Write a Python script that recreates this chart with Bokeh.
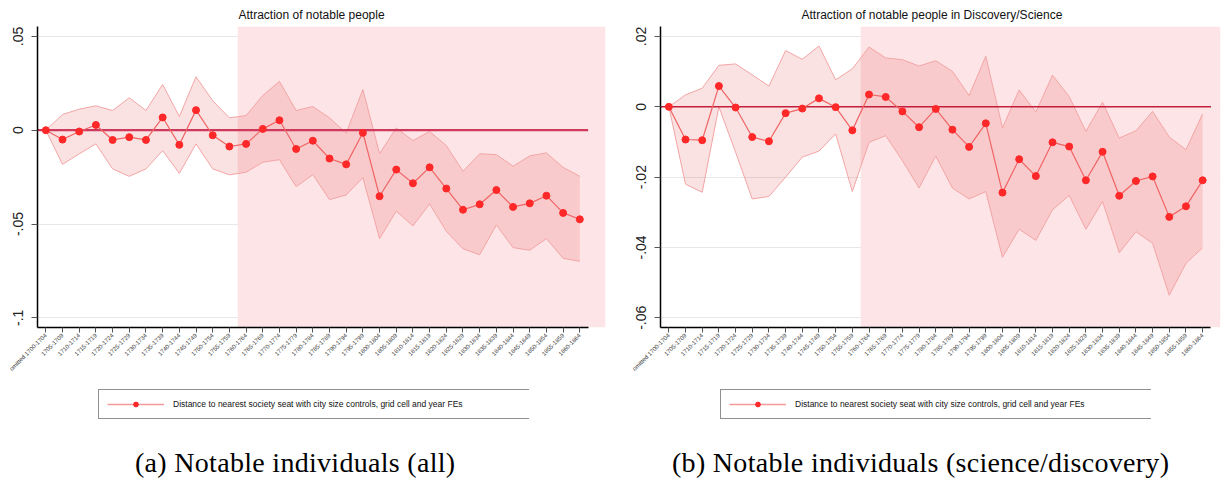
import math
from bokeh.plotting import figure
from bokeh.models import FixedTicker, BoxAnnotation, Legend, LegendItem, Div, Spacer
from bokeh.layouts import row, column
from bokeh.embed import file_html
from bokeh.resources import INLINE

periods = ["omitted 1700-1704", "1705-1709", "1710-1714", "1715-1719", "1720-1724",
           "1725-1729", "1730-1734", "1735-1739", "1740-1744", "1745-1749",
           "1750-1754", "1755-1759", "1760-1764", "1765-1769", "1770-1774",
           "1775-1779", "1780-1784", "1785-1789", "1790-1794", "1795-1799",
           "1800-1804", "1805-1809", "1810-1814", "1815-1819", "1820-1824",
           "1825-1829", "1830-1834", "1835-1839", "1840-1844", "1845-1849",
           "1850-1854", "1855-1859", "1860-1864"]
treatment_first = "1760-1764"

# Panel (a): all notable people
coef_all = [0.0, -0.0050, -0.0007, 0.0028, -0.0052, -0.0037, -0.0052, 0.0068, -0.0078, 0.0107,
            -0.0027, -0.0087, -0.0073, 0.0007, 0.0053, -0.0100, -0.0056, -0.0151, -0.0182, -0.0014,
            -0.0352, -0.0210, -0.0283, -0.0198, -0.0311, -0.0424, -0.0395, -0.0319, -0.0409, -0.0390,
            -0.0349, -0.0441, -0.0475]
upper_all = [0.0, 0.0084, 0.0112, 0.0130, 0.0105, 0.0173, 0.0105, 0.0244, 0.0073, 0.0285,
             0.0157, 0.0066, 0.0078, 0.0185, 0.0260, 0.0105, 0.0126, 0.0066, -0.0016, 0.0217,
             -0.0125, 0.0012, -0.0055, -0.0007, -0.0082, -0.0219, -0.0126, -0.0130, -0.0192, -0.0137,
             -0.0121, -0.0198, -0.0246]
lower_all = [0.0, -0.0182, -0.0126, -0.0073, -0.0206, -0.0246, -0.0206, -0.0109, -0.0230, -0.0073,
             -0.0206, -0.0238, -0.0224, -0.0171, -0.0157, -0.0301, -0.0237, -0.0370, -0.0345, -0.0253,
             -0.0578, -0.0432, -0.0510, -0.0393, -0.0539, -0.0632, -0.0664, -0.0505, -0.0626, -0.0640,
             -0.0578, -0.0683, -0.0699]

# Panel (b): science / discovery
coef_sci = [0.0, -0.0093, -0.0095, 0.0059, -0.0002, -0.0086, -0.0098, -0.0018, -0.0005, 0.0024,
            -0.0001, -0.0067, 0.0035, 0.0028, -0.0013, -0.0058, -0.0006, -0.0065, -0.0114, -0.0047,
            -0.0244, -0.0149, -0.0197, -0.0101, -0.0113, -0.0209, -0.0128, -0.0253, -0.0211, -0.0198,
            -0.0313, -0.0283, -0.0209]
upper_sci = [0.0, 0.0034, 0.0053, 0.0118, 0.0122, 0.0091, 0.0059, 0.0160, 0.0135, 0.0173,
             0.0077, 0.0108, 0.0170, 0.0139, 0.0134, 0.0116, 0.0131, 0.0101, 0.0032, 0.0144,
             -0.0060, 0.0048, -0.0015, 0.0090, 0.0029, -0.0070, 0.0013, -0.0089, -0.0068, -0.0013,
             -0.0086, -0.0122, -0.0020]
lower_sci = [0.0, -0.0220, -0.0243, 0.0000, -0.0129, -0.0262, -0.0255, -0.0200, -0.0143, -0.0126,
             -0.0077, -0.0241, -0.0101, -0.0082, -0.0153, -0.0231, -0.0140, -0.0231, -0.0262, -0.0241,
             -0.0428, -0.0348, -0.0380, -0.0293, -0.0252, -0.0348, -0.0269, -0.0415, -0.0355, -0.0388,
             -0.0536, -0.0445, -0.0401]

yticks_all = [0.05, 0.0, -0.05, -0.1]
ylabels_all = [".05", "0", "-.05", "-.1"]
yticks_sci = [0.02, 0.0, -0.02, -0.04, -0.06]
ylabels_sci = [".02", "0", "-.02", "-.04", "-.06"]

legend_text = "Distance to nearest society seat with city size controls, grid cell and year FEs"

LINE_COLOR = "#f06464"
LEGEND_LINE_COLOR = "#f59a9a"
DOT_COLOR = "#ff2828"


def panel(title, coef, lower, upper, yticks, ylabels, x_end, y_range, b_left, b_right,
          title_offset, zero_color, zero_width):
    n = len(periods)
    x = list(range(n))
    p = figure(width=611, height=388, x_range=(-0.5, x_end), y_range=y_range,
               output_backend="svg", toolbar_location=None,
               min_border_left=b_left, min_border_right=b_right,
               min_border_top=26, min_border_bottom=61,
               background_fill_color="white", border_fill_color="white",
               outline_line_color=None)
    p.title.text = title
    p.title.align = "left"
    p.title.offset = title_offset
    p.title.text_font = "Liberation Sans"
    p.title.text_font_size = "12px"
    p.title.text_font_style = "normal"
    p.title.text_color = "#111111"

    shade = BoxAnnotation(left=periods.index(treatment_first) - 0.5,
                          fill_color="#fde4e6", fill_alpha=1.0, line_color=None,
                          level="underlay")
    p.add_layout(shade)

    p.varea(x=x, y1=lower, y2=upper, fill_color="#e0383e", fill_alpha=0.15)
    p.line(x, upper, line_color="#f3a5a5", line_width=1)
    p.line(x, lower, line_color="#f3a5a5", line_width=1)
    p.segment(x0=[-0.5], x1=[n - 0.5], y0=[0], y1=[0], line_color=zero_color,
              line_width=zero_width)
    p.line(x, coef, line_color=LINE_COLOR, line_width=1.2)
    p.scatter(x, coef, size=7, fill_color=DOT_COLOR, line_color=DOT_COLOR)

    xa = p.xaxis[0]
    xa.ticker = FixedTicker(ticks=x)
    xa.major_label_overrides = {i: periods[i] for i in x}
    xa.major_label_orientation = math.pi / 4
    xa.major_label_text_font = "Liberation Sans"
    xa.major_label_text_font_size = "6px"
    xa.major_label_text_color = "#3a3a3a"
    xa.major_label_standoff = 2
    xa.major_tick_out = 5
    xa.major_tick_in = 0
    xa.major_tick_line_color = "#555555"
    xa.minor_tick_line_color = None
    xa.axis_line_color = "black"
    xa.axis_line_width = 1.5
    xa.bounds = (-0.5, n - 0.5)

    ya = p.yaxis[0]
    ya.ticker = FixedTicker(ticks=yticks)
    ya.major_label_overrides = {t: l for t, l in zip(yticks, ylabels)}
    ya.major_label_orientation = "vertical"
    ya.major_label_text_font = "Liberation Sans"
    ya.major_label_text_font_size = "14px"
    ya.major_label_text_color = "#222222"
    ya.major_label_standoff = 8
    ya.major_tick_out = 6
    ya.major_tick_in = 0
    ya.major_tick_line_color = "#555555"
    ya.minor_tick_line_color = None
    ya.axis_line_color = "black"
    ya.axis_line_width = 1.5

    p.xgrid.visible = False
    p.ygrid.ticker = FixedTicker(ticks=yticks)
    p.ygrid.grid_line_color = "#e8e8e8"
    p.ygrid.grid_line_width = 1
    return p


def legend_box(coef):
    n = len(coef)
    x = list(range(n))
    # the series is drawn far outside this small view: only its legend entry is seen
    q = figure(width=432, height=31, output_backend="svg", toolbar_location=None,
               x_range=(-1000, -999), y_range=(-1000, -999),
               x_axis_location=None, y_axis_location=None,
               min_border_left=0, min_border_right=0, min_border_top=0, min_border_bottom=0,
               outline_line_color=None, background_fill_color="white",
               border_fill_color="white")
    q.xgrid.visible = False
    q.ygrid.visible = False
    cl = q.line(x, coef, line_color=LEGEND_LINE_COLOR, line_width=1.3)
    sc = q.scatter(x, coef, size=7, fill_color=DOT_COLOR, line_color=DOT_COLOR)
    legend = Legend(items=[LegendItem(label=legend_text, renderers=[cl, sc])],
                    location="top_left", margin=1, padding=8,
                    glyph_width=57, glyph_height=12, label_standoff=9,
                    label_width=348, label_height=12,
                    label_text_font="Liberation Sans", label_text_font_size="8.5px",
                    label_text_color="#111111",
                    border_line_color="#222222", border_line_width=1,
                    background_fill_color="white", background_fill_alpha=1.0)
    q.add_layout(legend)
    return q


def caption(text, pad_left):
    html = ('<div style="font-family: \'Liberation Serif\', serif; font-size: 28px; '
            'line-height: 28px; letter-spacing: 0.3px; color: black; white-space: nowrap; '
            'padding-top: 30px; padding-left: %dpx;">%s</div>' % (pad_left, text))
    return Div(text=html, width=611, height=60, margin=(0, 0, 0, 0))


pa = panel("Attraction of notable people", coef_all, lower_all, upper_all,
           yticks_all, ylabels_all, 33.54, (-0.10517, 0.05528), 37, 6, 201,
           "#cf3a5c", 2.2)
pb = panel("Attraction of notable people in Discovery/Science", coef_sci, lower_sci, upper_sci,
           yticks_sci, ylabels_sci, 33.07, (-0.06276, 0.02284), 49, 2, 141,
           "#c41e3a", 1.5)

legend_row = row(Spacer(width=97, height=31), legend_box(coef_all),
                 Spacer(width=190, height=31), legend_box(coef_sci),
                 Spacer(width=71, height=31))
caption_row = row(caption("(a) Notable individuals (all)", 135),
                  caption("(b) Notable individuals (science/discovery)", 61))

layout = column(row(pa, pb), legend_row, caption_row)
open("out.html", "w").write(file_html(layout, INLINE))
